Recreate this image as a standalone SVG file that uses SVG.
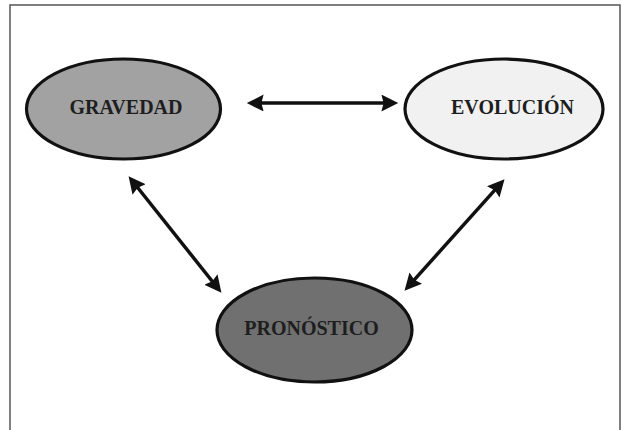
<svg xmlns="http://www.w3.org/2000/svg" width="622" height="430" viewBox="0 0 622 430">
  <style>
    .node ellipse { stroke: #111; stroke-width: 3.2; }
    .node text { font-family: "Liberation Serif", "Times New Roman", serif; font-weight: bold; font-size: 20px; fill: #1e1e1e; text-anchor: middle; }
    .link { stroke: #111; stroke-width: 3.5; fill: none; marker-start: url(#head); marker-end: url(#head); }
  </style>
  <defs>
    <marker id="head" markerUnits="userSpaceOnUse" markerWidth="18" markerHeight="18" viewBox="0 0 16 16" refX="5" refY="7.5" orient="auto-start-reverse">
      <path d="M0,0 L15,7.5 L0,15 L2,7.5 z" fill="#111"/>
    </marker>
  </defs>

  <rect x="0" y="0" width="622" height="430" fill="#ffffff"/>
  <!-- frame (open at the bottom) -->
  <rect x="10" y="5" width="610" height="440" fill="none" stroke="#555" stroke-width="1.5"/>

  <g id="connectors">
    <line class="link" x1="258" y1="103" x2="387" y2="103"/>
    <line class="link" x1="135.6" y1="185" x2="214.4" y2="284"/>
    <line class="link" x1="497" y1="187.7" x2="412" y2="282.3"/>
  </g>

  <g id="gravedad" class="node">
    <ellipse cx="123.5" cy="109" rx="97" ry="50" fill="#a2a2a2"/>
    <text x="126" y="114">GRAVEDAD</text>
  </g>

  <g id="evolucion" class="node">
    <ellipse cx="504" cy="109" rx="99" ry="50" fill="#f1f1f1"/>
    <text x="512.5" y="114">EVOLUCIÓN</text>
  </g>

  <g id="pronostico" class="node">
    <ellipse cx="314.5" cy="330" rx="97.5" ry="52" fill="#707070"/>
    <text x="311.5" y="335">PRONÓSTICO</text>
  </g>
</svg>
